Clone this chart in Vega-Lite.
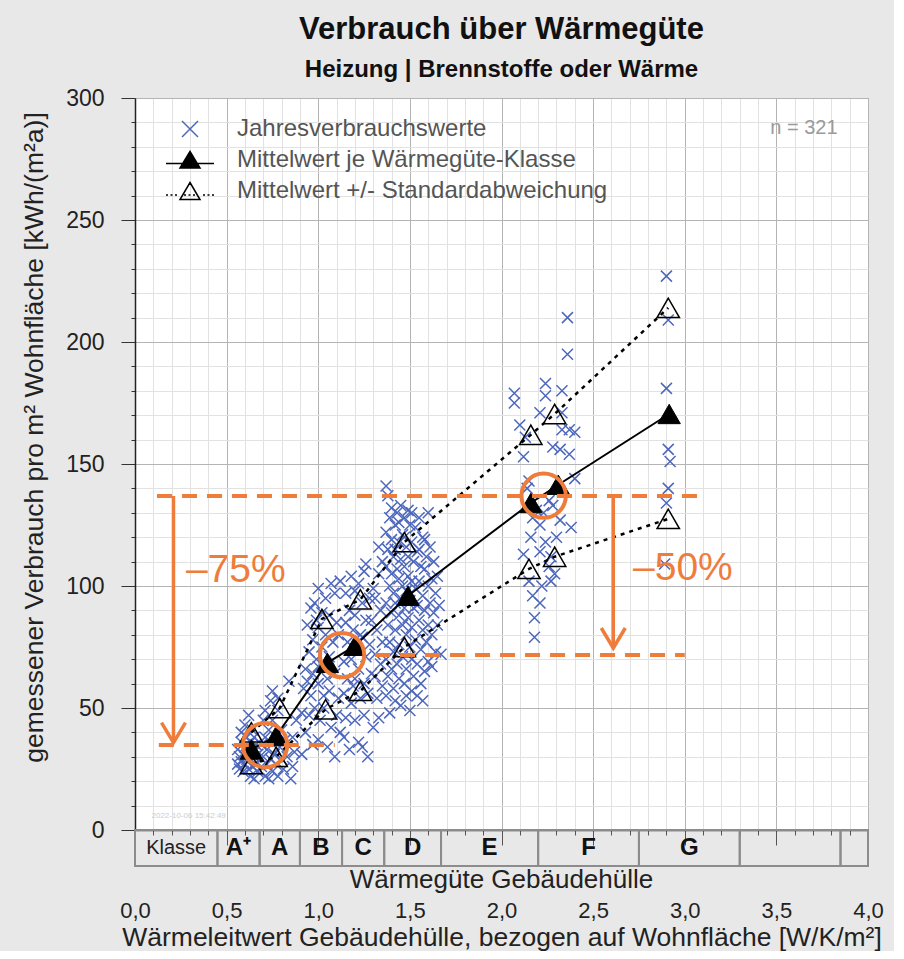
{
  "$schema": "https://vega.github.io/schema/vega-lite/v6.json",
  "background": "#e8e8e8",
  "padding": {"left": 21, "top": 13, "right": 10, "bottom": 0},
  "bounds": "flush",
  "spacing": 0,
  "config": {"font": "Liberation Sans"},
  "datasets": {
    "messwerte": [
      {"x":0.56,"y":27},{"x":0.56,"y":33},{"x":0.57,"y":30},{"x":0.57,"y":25},{"x":0.58,"y":28},{"x":0.58,"y":36},{"x":0.58,"y":40},{"x":0.59,"y":24},{"x":0.59,"y":31},{"x":0.6,"y":27},{"x":0.6,"y":34},{"x":0.6,"y":43},{"x":0.61,"y":29},{"x":0.61,"y":38},{"x":0.62,"y":25},{"x":0.62,"y":32},{"x":0.62,"y":47},{"x":0.63,"y":22},{"x":0.63,"y":29},{"x":0.63,"y":36},{"x":0.64,"y":26},{"x":0.64,"y":33},{"x":0.64,"y":41},{"x":0.65,"y":21},{"x":0.65,"y":30},{"x":0.65,"y":38},{"x":0.66,"y":27},{"x":0.66,"y":35},{"x":0.67,"y":24},{"x":0.67,"y":31},
      {"x":0.69,"y":26},{"x":0.69,"y":35},{"x":0.7,"y":30},{"x":0.7,"y":45},{"x":0.71,"y":22},{"x":0.71,"y":38},{"x":0.71,"y":49},{"x":0.72,"y":27},{"x":0.72,"y":33},{"x":0.73,"y":21},{"x":0.73,"y":41},{"x":0.74,"y":29},{"x":0.74,"y":36},{"x":0.74,"y":53},{"x":0.75,"y":24},{"x":0.75,"y":45},{"x":0.75,"y":57},{"x":0.76,"y":31},{"x":0.77,"y":38},{"x":0.77,"y":27},{"x":0.78,"y":22},{"x":0.78,"y":49},{"x":0.78,"y":54},{"x":0.79,"y":34},{"x":0.8,"y":41},{"x":0.8,"y":29},{"x":0.81,"y":25},{"x":0.82,"y":37},{"x":0.83,"y":30},{"x":0.84,"y":61},{"x":0.85,"y":21},{"x":0.86,"y":26},{"x":0.86,"y":38},{"x":0.87,"y":32},{"x":0.88,"y":45},
      {"x":0.91,"y":31},{"x":0.91,"y":48},{"x":0.92,"y":58},{"x":0.93,"y":40},{"x":0.93,"y":66},{"x":0.94,"y":61},{"x":0.94,"y":84},{"x":0.95,"y":47},{"x":0.95,"y":73},{"x":0.96,"y":55},{"x":0.96,"y":91},{"x":0.97,"y":35},{"x":0.97,"y":64},{"x":0.97,"y":78},{"x":0.98,"y":93},{"x":0.98,"y":50},{"x":0.99,"y":70},{"x":0.99,"y":86},{"x":1.0,"y":37},{"x":1.0,"y":60},{"x":1.0,"y":67},{"x":1.0,"y":83},{"x":1.0,"y":99},{"x":1.01,"y":45},{"x":1.02,"y":75},{"x":1.02,"y":89},{"x":1.03,"y":50},{"x":1.03,"y":55},{"x":1.03,"y":68},{"x":1.04,"y":80},{"x":1.04,"y":95},{"x":1.05,"y":62},{"x":1.05,"y":34},{"x":1.06,"y":57},{"x":1.06,"y":71},{"x":1.06,"y":88},{"x":1.07,"y":42},{"x":1.07,"y":101},{"x":1.08,"y":77},{"x":1.09,"y":30},{"x":1.09,"y":64},{"x":1.09,"y":97},{"x":1.1,"y":47},{"x":1.1,"y":85},{"x":1.11,"y":54},{"x":1.11,"y":80},{"x":1.12,"y":40},{"x":1.12,"y":102},
      {"x":1.14,"y":38},{"x":1.14,"y":56},{"x":1.14,"y":69},{"x":1.15,"y":85},{"x":1.15,"y":97},{"x":1.15,"y":46},{"x":1.16,"y":62},{"x":1.16,"y":77},{"x":1.17,"y":33},{"x":1.17,"y":90},{"x":1.18,"y":52},{"x":1.18,"y":70},{"x":1.18,"y":104},{"x":1.19,"y":59},{"x":1.19,"y":82},{"x":1.2,"y":45},{"x":1.2,"y":62},{"x":1.2,"y":88},{"x":1.2,"y":98},{"x":1.21,"y":74},{"x":1.22,"y":36},{"x":1.22,"y":66},{"x":1.22,"y":101},{"x":1.23,"y":54},{"x":1.23,"y":80},{"x":1.24,"y":79},{"x":1.24,"y":34},{"x":1.24,"y":93},{"x":1.25,"y":47},{"x":1.25,"y":60},{"x":1.25,"y":106},{"x":1.26,"y":71},{"x":1.26,"y":86},{"x":1.26,"y":109},{"x":1.27,"y":30},{"x":1.27,"y":56},{"x":1.28,"y":76},{"x":1.28,"y":95},{"x":1.29,"y":64},{"x":1.29,"y":86},{"x":1.3,"y":42},{"x":1.3,"y":99},{"x":1.31,"y":63},{"x":1.31,"y":72},{"x":1.31,"y":95},{"x":1.32,"y":54},{"x":1.32,"y":82},{"x":1.33,"y":46},{"x":1.33,"y":105},{"x":1.33,"y":116},{"x":1.34,"y":68},{"x":1.34,"y":90},{"x":1.35,"y":77},{"x":1.35,"y":59},{"x":1.35,"y":110},
      {"x":1.37,"y":141},{"x":1.37,"y":122},{"x":1.37,"y":108},{"x":1.37,"y":93},{"x":1.37,"y":70},{"x":1.37,"y":55},{"x":1.38,"y":137},{"x":1.38,"y":115},{"x":1.38,"y":84},{"x":1.38,"y":63},{"x":1.39,"y":128},{"x":1.39,"y":100},{"x":1.39,"y":77},{"x":1.39,"y":48},{"x":1.4,"y":132},{"x":1.4,"y":119},{"x":1.4,"y":105},{"x":1.4,"y":89},{"x":1.4,"y":66},{"x":1.41,"y":112},{"x":1.41,"y":97},{"x":1.41,"y":73},{"x":1.41,"y":58},{"x":1.42,"y":125},{"x":1.42,"y":115},{"x":1.42,"y":93},{"x":1.42,"y":82},{"x":1.42,"y":53},{"x":1.43,"y":130},{"x":1.43,"y":107},{"x":1.43,"y":68},{"x":1.44,"y":126},{"x":1.44,"y":118},{"x":1.44,"y":103},{"x":1.44,"y":88},{"x":1.44,"y":76},{"x":1.44,"y":62},{"x":1.45,"y":133},{"x":1.45,"y":111},{"x":1.45,"y":95},{"x":1.45,"y":51},{"x":1.46,"y":121},{"x":1.46,"y":100},{"x":1.46,"y":84},{"x":1.46,"y":71},{"x":1.47,"y":128},{"x":1.47,"y":120},{"x":1.47,"y":108},{"x":1.47,"y":91},{"x":1.47,"y":60},{"x":1.48,"y":116},{"x":1.48,"y":98},{"x":1.48,"y":80},{"x":1.48,"y":66},{"x":1.48,"y":55},{"x":1.49,"y":131},{"x":1.49,"y":112},{"x":1.49,"y":104},{"x":1.49,"y":87},{"x":1.5,"y":125},{"x":1.5,"y":94},{"x":1.5,"y":75},{"x":1.5,"y":49},{"x":1.51,"y":130},{"x":1.51,"y":118},{"x":1.51,"y":102},{"x":1.51,"y":83},{"x":1.51,"y":70},{"x":1.51,"y":57},{"x":1.52,"y":110},{"x":1.52,"y":91},{"x":1.52,"y":63},{"x":1.53,"y":124},{"x":1.53,"y":99},{"x":1.53,"y":78},{"x":1.54,"y":114},{"x":1.54,"y":92},{"x":1.54,"y":68},{"x":1.54,"y":55},{"x":1.55,"y":128},{"x":1.55,"y":115},{"x":1.55,"y":102},{"x":1.55,"y":86},{"x":1.56,"y":108},{"x":1.56,"y":74},{"x":1.56,"y":60},{"x":1.57,"y":120},{"x":1.57,"y":96},{"x":1.57,"y":82},{"x":1.57,"y":53},{"x":1.58,"y":119},{"x":1.58,"y":107},{"x":1.58,"y":90},{"x":1.58,"y":65},{"x":1.59,"y":112},{"x":1.59,"y":77},{"x":1.6,"y":130},{"x":1.6,"y":100},{"x":1.6,"y":84},{"x":1.6,"y":69},{"x":1.61,"y":116},{"x":1.61,"y":93},{"x":1.62,"y":103},{"x":1.62,"y":80},{"x":1.62,"y":67},{"x":1.63,"y":110},{"x":1.63,"y":89},{"x":1.64,"y":97},{"x":1.64,"y":73},{"x":1.65,"y":104},{"x":1.65,"y":84},{"x":1.66,"y":92},{"x":1.67,"y":72},
      {"x":2.07,"y":179},{"x":2.07,"y":175},{"x":2.1,"y":166},{"x":2.12,"y":153},{"x":2.12,"y":113},{"x":2.13,"y":161},{"x":2.14,"y":140},{"x":2.15,"y":143},{"x":2.16,"y":120},{"x":2.17,"y":128},{"x":2.18,"y":87},{"x":2.18,"y":79},{"x":2.19,"y":131},{"x":2.15,"y":102},{"x":2.17,"y":96},
      {"x":2.21,"y":171},{"x":2.21,"y":125},{"x":2.21,"y":114},{"x":2.21,"y":93},{"x":2.22,"y":100},{"x":2.23,"y":130},{"x":2.24,"y":183},{"x":2.24,"y":178},{"x":2.24,"y":118},{"x":2.26,"y":135},{"x":2.26,"y":108},{"x":2.27,"y":102},{"x":2.27,"y":112},{"x":2.28,"y":157},{"x":2.28,"y":133},{"x":2.29,"y":105},{"x":2.3,"y":120},{"x":2.32,"y":156},{"x":2.32,"y":127},{"x":2.33,"y":180},{"x":2.33,"y":171},{"x":2.33,"y":164},{"x":2.36,"y":210},{"x":2.36,"y":195},{"x":2.37,"y":154},{"x":2.37,"y":164},{"x":2.38,"y":124},{"x":2.4,"y":163},{"x":2.4,"y":144},
      {"x":2.9,"y":227},{"x":2.91,"y":209},{"x":2.9,"y":181},{"x":2.91,"y":156},{"x":2.92,"y":151},{"x":2.91,"y":140},{"x":2.9,"y":134},{"x":2.89,"y":109}
    ],
    "mittel": [
      {"klasse":"A+","x":0.635,"y":33},{"klasse":"A","x":0.77,"y":38.5},{"klasse":"B","x":1.05,"y":68.5},{"klasse":"C","x":1.2,"y":75.5},{"klasse":"D","x":1.49,"y":96},{"klasse":"E","x":2.16,"y":134},{"klasse":"F","x":2.31,"y":141.5},{"klasse":"G","x":2.915,"y":170.5}
    ],
    "streuung": [
      {"klasse":"A+","grenze":"oben","x":0.635,"y":40},{"klasse":"A","grenze":"oben","x":0.79,"y":50},{"klasse":"B","grenze":"oben","x":1.02,"y":86.5},{"klasse":"C","grenze":"oben","x":1.23,"y":94.5},{"klasse":"D","grenze":"oben","x":1.47,"y":118},{"klasse":"E","grenze":"oben","x":2.16,"y":162},{"klasse":"F","grenze":"oben","x":2.29,"y":170.5},{"klasse":"G","grenze":"oben","x":2.91,"y":214},
      {"klasse":"A+","grenze":"unten","x":0.635,"y":27},{"klasse":"A","grenze":"unten","x":0.77,"y":30},{"klasse":"B","grenze":"unten","x":1.04,"y":49.5},{"klasse":"C","grenze":"unten","x":1.23,"y":57},{"klasse":"D","grenze":"unten","x":1.47,"y":75},{"klasse":"E","grenze":"unten","x":2.15,"y":107},{"klasse":"F","grenze":"unten","x":2.29,"y":112},{"klasse":"G","grenze":"unten","x":2.91,"y":127.5}
    ],
    "hilfslinien": [
      {"x":0.12,"x2":3.08,"y":136.9},{"x":1.31,"x2":3.0,"y":71.7},{"x":0.13,"x2":1.09,"y":34.8}
    ],
    "pfeile": [
      {"x":0.21,"y":35.8,"y2":136.9},{"x":2.61,"y":74.6,"y2":136.9}
    ],
    "kreise": [
      {"x":0.71,"y":34.8},{"x":1.13,"y":71.7},{"x":2.23,"y":137}
    ],
    "reduktion": [
      {"x":0.55,"y":106.6,"t":"–75%"},{"x":2.99,"y":107.4,"t":"–50%"}
    ],
    "hinweise": [
      {"x":3.65,"y":287.7,"t":"n = 321"}
    ],
    "zeitstempel": [
      {"x":0.09,"y":5.7,"t":"2022-10-06  15:42:49"}
    ],
    "legende": [
      {"reihe":"Jahresverbrauchswerte"},{"reihe":"Mittelwert je Wärmegüte-Klasse"},{"reihe":"Mittelwert +/- Standardabweichung"}
    ],
    "klassen": [
      {"klasse":"Klasse","x0":0,"x1":0.45},{"klasse":"A⁺","x0":0.45,"x1":0.68},{"klasse":"A","x0":0.68,"x1":0.9},{"klasse":"B","x0":0.9,"x1":1.13},{"klasse":"C","x0":1.13,"x1":1.36},{"klasse":"D","x0":1.36,"x1":1.67},{"klasse":"E","x0":1.67,"x1":2.2},{"klasse":"F","x0":2.2,"x1":2.75},{"klasse":"G","x0":2.75,"x1":3.3},{"klasse":"","x0":3.3,"x1":3.85},{"klasse":"","x0":3.85,"x1":4.0}
    ]
  },
  "vconcat": [
    {
      "width": 733,
      "height": 732,
      "title": {
        "text": "Verbrauch über Wärmegüte",
        "subtitle": "Heizung | Brennstoffe oder Wärme",
        "fontSize": 31, "fontWeight": "bold", "color": "#111",
        "subtitleFontSize": 24, "subtitleFontWeight": "bold", "subtitleColor": "#111",
        "anchor": "middle", "frame": "group", "offset": 4, "subtitlePadding": 12
      },
      "view": {"fill": "white", "stroke": "#777", "strokeWidth": 1},
      "encoding": {
        "x": {
          "field": "x", "type": "quantitative",
          "scale": {"domain": [0, 4], "nice": false, "zero": false},
          "axis": {
            "values": [0,0.1,0.2,0.3,0.4,0.5,0.6,0.7,0.8,0.9,1,1.1,1.2,1.3,1.4,1.5,1.6,1.7,1.8,1.9,2,2.1,2.2,2.3,2.4,2.5,2.6,2.7,2.8,2.9,3,3.1,3.2,3.3,3.4,3.5,3.6,3.7,3.8,3.9,4],
            "title": null, "labels": false, "ticks": true,
            "tickSize": {"condition": {"test": "round(datum.value * 10) % 5 === 0", "value": 15}, "value": 5},
            "tickColor": "#555", "tickWidth": 1,
            "domainColor": "#333", "domainWidth": 1.5,
            "grid": true,
            "gridColor": {"condition": {"test": "round(datum.value * 10) % 5 === 0", "value": "#b4b4b4"}, "value": "#e2e2e2"},
            "gridWidth": 1
          }
        },
        "y": {
          "field": "y", "type": "quantitative",
          "scale": {"domain": [0, 300], "nice": false},
          "axis": {
            "values": [0,10,20,30,40,50,60,70,80,90,100,110,120,130,140,150,160,170,180,190,200,210,220,230,240,250,260,270,280,290,300],
            "title": "gemessener Verbrauch pro m² Wohnfläche [kWh/(m²a)]",
            "titleFontSize": 26.5, "titleFontWeight": "normal", "titleColor": "#222", "titlePadding": 17, "titleY": 339,
            "labelExpr": "datum.value % 50 === 0 ? datum.label : ''",
            "labelFontSize": 23, "labelColor": "#222", "labelPadding": 17, "labelOverlap": false, "labelFlush": false,
            "tickSize": {"condition": {"test": "datum.value % 50 === 0", "value": 14}, "value": 4},
            "tickColor": "#333", "tickWidth": 1,
            "domainColor": "#222", "domainWidth": 1.5,
            "grid": true,
            "gridColor": {"condition": {"test": "datum.value % 50 === 0", "value": "#b4b4b4"}, "value": "#e2e2e2"},
            "gridWidth": 1
          }
        }
      },
      "layer": [
        {
          "data": {"name": "messwerte"},
          "mark": {"type": "point", "shape": "M-1,-1L1,1M-1,1L1,-1", "size": 121, "strokeWidth": 1.5, "filled": false, "stroke": "#4d67bd", "opacity": 1}
        },
        {
          "data": {"name": "streuung"},
          "mark": {"type": "line", "color": "black", "strokeWidth": 2.5, "strokeDash": [4, 5]},
          "encoding": {"detail": {"field": "grenze", "type": "nominal"}}
        },
        {
          "data": {"name": "mittel"},
          "mark": {"type": "line", "color": "black", "strokeWidth": 2},
          "encoding": {}
        },
        {
          "data": {"name": "streuung"},
          "mark": {"type": "point", "shape": "triangle-up", "size": 500, "filled": false, "stroke": "black", "strokeWidth": 1.5, "opacity": 1}
        },
        {
          "data": {"name": "mittel"},
          "mark": {"type": "point", "shape": "triangle-up", "size": 500, "filled": true, "fill": "black", "stroke": "black", "strokeWidth": 1, "opacity": 1}
        },
        {
          "data": {"name": "hilfslinien"},
          "mark": {"type": "rule", "color": "#ee7d3b", "strokeWidth": 4, "strokeDash": [15, 10]},
          "encoding": {"x2": {"field": "x2"}}
        },
        {
          "data": {"name": "pfeile"},
          "mark": {"type": "rule", "color": "#ee7d3b", "strokeWidth": 3.5},
          "encoding": {"y2": {"field": "y2"}}
        },
        {
          "data": {"name": "pfeile"},
          "mark": {"type": "point", "shape": "M-0.6,-1L0,0L0.6,-1", "size": 1600, "filled": false, "stroke": "#ee7d3b", "strokeWidth": 3.5, "opacity": 1}
        },
        {
          "data": {"name": "kreise"},
          "mark": {"type": "point", "shape": "circle", "size": 1963, "filled": false, "stroke": "#ee7d3b", "strokeWidth": 4, "opacity": 1}
        },
        {
          "data": {"name": "reduktion"},
          "mark": {"type": "text", "fontSize": 39, "color": "#ee7d3b", "align": "center", "baseline": "middle"},
          "encoding": {"text": {"field": "t"}}
        },
        {
          "data": {"name": "hinweise"},
          "mark": {"type": "text", "fontSize": 20, "color": "#9a9a9a", "align": "center", "baseline": "middle"},
          "encoding": {"text": {"field": "t"}}
        },
        {
          "data": {"name": "zeitstempel"},
          "mark": {"type": "text", "fontSize": 8, "color": "#cccccc", "align": "left", "baseline": "middle"},
          "encoding": {"text": {"field": "t"}}
        },
        {
          "data": {"name": "legende"},
          "mark": {"type": "point", "size": 400, "strokeWidth": 1.5, "opacity": 1},
          "encoding": {
            "stroke": {
              "field": "reihe", "type": "nominal",
              "scale": {"domain": ["Jahresverbrauchswerte", "Mittelwert je Wärmegüte-Klasse", "Mittelwert +/- Standardabweichung"], "range": ["#4d67bd", "#000000", "#000000"]},
              "legend": {
                "title": null, "orient": "none", "legendX": 43, "legendY": 19, "direction": "vertical",
                "symbolSize": 400, "symbolStrokeWidth": 1.5, "symbolOpacity": 1,
                "labelFontSize": 24, "labelColor": "#555", "labelOffset": 35, "labelLimit": 450, "rowPadding": 7, "padding": 0
              }
            },
            "shape": {
              "field": "reihe", "type": "nominal",
              "scale": {"domain": ["Jahresverbrauchswerte", "Mittelwert je Wärmegüte-Klasse", "Mittelwert +/- Standardabweichung"], "range": ["M-0.8,-0.8L0.8,0.8M-0.8,0.8L0.8,-0.8", "M-2.4,0.35L2.4,0.35M0,-0.85L1,0.8L-1,0.8Z", "M0,-0.85L1,0.85L-1,0.85ZM-2.4,0.4L-2.2,0.4M-1.95,0.4L-1.75,0.4M-1.5,0.4L-1.3,0.4M-0.6,0.4L-0.4,0.4M-0.15,0.4L0.05,0.4M0.3,0.4L0.5,0.4M1.3,0.4L1.5,0.4M1.75,0.4L1.95,0.4M2.2,0.4L2.4,0.4"]}
            },
            "fill": {
              "field": "reihe", "type": "nominal",
              "scale": {"domain": ["Jahresverbrauchswerte", "Mittelwert je Wärmegüte-Klasse", "Mittelwert +/- Standardabweichung"], "range": ["transparent", "#000000", "transparent"]}
            }
          }
        }
      ]
    },
    {
      "width": 733,
      "height": 72,
      "view": {"stroke": null, "fill": null},
      "layer": [
        {
          "data": {"name": "klassen"},
          "mark": {"type": "rect", "fill": "transparent", "stroke": "#8c8c8c", "strokeWidth": 2},
          "encoding": {
            "x": {
              "field": "x0", "type": "quantitative",
              "scale": {"domain": [0, 4], "nice": false, "zero": false},
              "axis": {
                "orient": "bottom",
                "values": [0,0.5,1,1.5,2,2.5,3,3.5,4],
                "labelExpr": "replace(format(datum.value, '.1f'), '.', ',')",
                "labelFontSize": 22, "labelColor": "#222", "labelPadding": -2, "labelFlush": false, "labelOverlap": false,
                "ticks": false, "domain": false, "grid": false,
                "title": "Wärmeleitwert Gebäudehülle, bezogen auf Wohnfläche [W/K/m²]",
                "titleFontSize": 26.5, "titleFontWeight": "normal", "titleColor": "#222", "titlePadding": 3
              }
            },
            "x2": {"field": "x1"},
            "y": {"datum": "Klasse", "type": "nominal", "scale": {"domain": ["Klasse", "Titel"], "paddingInner": 0, "paddingOuter": 0}, "axis": null}
          }
        },
        {
          "data": {"name": "klassen"},
          "transform": [
            {"fold": ["x0", "x1"], "as": ["grenze", "wert"]},
            {"aggregate": [{"op": "mean", "field": "wert", "as": "mitte"}], "groupby": ["klasse"]},
            {"filter": "datum.klasse === 'Klasse'"}
          ],
          "mark": {"type": "text", "fontSize": 20, "color": "#222", "align": "center", "baseline": "middle"},
          "encoding": {
            "x": {
              "field": "mitte", "type": "quantitative",
              "axis": {"orient": "top", "labels": false, "domain": false, "grid": false, "ticks": false, "title": null}
            },
            "y": {"datum": "Klasse", "type": "nominal", "axis": null},
            "text": {"field": "klasse"}
          }
        },
        {
          "data": {"name": "klassen"},
          "transform": [
            {"fold": ["x0", "x1"], "as": ["grenze", "wert"]},
            {"aggregate": [{"op": "mean", "field": "wert", "as": "mitte"}], "groupby": ["klasse"]},
            {"filter": "datum.klasse !== 'Klasse' && datum.klasse !== ''"}
          ],
          "mark": {"type": "text", "fontSize": 24, "fontWeight": "bold", "color": "#111", "align": "center", "baseline": "middle"},
          "encoding": {
            "x": {"field": "mitte", "type": "quantitative", "axis": null},
            "y": {"datum": "Klasse", "type": "nominal", "axis": null},
            "text": {"field": "klasse"}
          }
        },
        {
          "data": {"values": [{"t": "Wärmegüte Gebäudehülle"}]},
          "mark": {"type": "text", "fontSize": 26, "color": "#222", "align": "center", "baseline": "middle", "dy": -4},
          "encoding": {
            "x": {"datum": 2, "type": "quantitative", "axis": null},
            "y": {"datum": "Titel", "type": "nominal", "axis": null},
            "text": {"field": "t"}
          }
        }
      ]
    }
  ]
}
